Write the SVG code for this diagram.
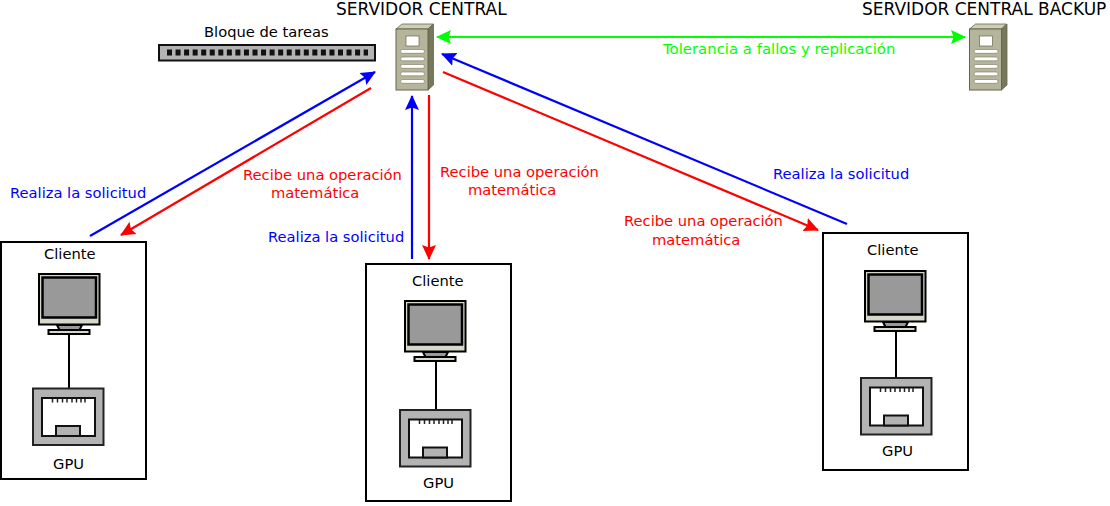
<svg xmlns="http://www.w3.org/2000/svg" xmlns:xlink="http://www.w3.org/1999/xlink" width="1110" height="506" viewBox="0 0 1110 506">
<style>
text{font-family:"DejaVu Sans",sans-serif;font-size:14.7px}
.t{font-size:17px}
.w{font-size:14.9px}
.k{fill:#000}.b{fill:#0000ff}.r{fill:#ff0000}.g{fill:#00ff00}
.box{fill:#fff;stroke:#000;stroke-width:2}
.cb{stroke-width:2.200;fill:none}
.lb{stroke:#0000ff}.lr{stroke:#ff0000}.lg{stroke:#00ff00}
</style>
<defs>
<marker id="mb" markerUnits="userSpaceOnUse" markerWidth="18" markerHeight="16" refX="14" refY="8" orient="auto"><path d="M0 1L15 8L0 15L2.500 8Z" fill="#0000ff"/></marker>
<marker id="mr" markerUnits="userSpaceOnUse" markerWidth="18" markerHeight="16" refX="14" refY="8" orient="auto"><path d="M0 1L15 8L0 15L2.500 8Z" fill="#ff0000"/></marker>
<marker id="mg" markerUnits="userSpaceOnUse" markerWidth="18" markerHeight="16" refX="14" refY="8" orient="auto-start-reverse"><path d="M0 1L15 8L0 15L2.500 8Z" fill="#00ff00"/></marker>
<g id="server">
<path d="M396 29L402 24H433L428 29Z" fill="#cfcfb8" stroke="#66664e" stroke-width=".8"/>
<path d="M428 29L433.500 24V85L428 90Z" fill="#77775c" stroke="#66664e" stroke-width=".8"/>
<rect x="396" y="29" width="32" height="61" fill="#b5b59c" stroke="#66664e" stroke-width="1"/>
<rect x="406" y="36" width="13" height="10" fill="#fff" stroke="#66664e" stroke-width=".7"/>
<g fill="#fff" stroke="#77775c" stroke-width=".6">
<rect x="400.500" y="49.500" width="24" height="3.800" rx="1.900"/>
<rect x="400.500" y="57" width="24" height="3.800" rx="1.900"/>
<rect x="400.500" y="64.500" width="24" height="3.800" rx="1.900"/>
<rect x="400.500" y="72" width="24" height="3.800" rx="1.900"/>
<rect x="400.500" y="79.500" width="24" height="3.800" rx="1.900"/>
</g>
</g>
<g id="monitor">
<path d="M57 325L60 331H79L82 325Z" fill="#999" stroke="#000" stroke-width="2"/>
<rect x="39" y="274" width="60.500" height="50.500" fill="#d8d8c8" stroke="#000" stroke-width="2"/>
<rect x="42.500" y="277.500" width="53.500" height="40" fill="#999" stroke="#000" stroke-width="2.500"/>
<rect x="48.500" y="330" width="41" height="4" fill="#d8d8c8" stroke="#000" stroke-width="2"/>
</g>
<g id="gpu">
<rect x="33" y="388.500" width="70.500" height="56.500" fill="#b3b3b3" stroke="#222" stroke-width="2"/>
<rect x="42" y="398" width="53" height="38" fill="#fff" stroke="#111" stroke-width="2"/>
<rect x="56" y="426" width="24" height="10" fill="#b3b3b3" stroke="#111" stroke-width="2"/>
<path d="M52.500 398.500v4M57.500 398.500v4M62.500 398.500v4M67 398.500v4M72 398.500v4M76.500 398.500v4M81 398.500v4M85 398.500v4" stroke="#222" stroke-width="1.500"/>
</g>
</defs>
<g id="bloque-tareas">
<rect x="159" y="45" width="216" height="15.500" fill="#b3b3b3" stroke="#111" stroke-width="2"/>
<path stroke="#111" stroke-width="6" stroke-dasharray="5 3.550" fill="none" d="M167 52.500H368"/>
<text x="204" y="37" class="k">Bloque de tareas</text>
</g>
<g id="servidor-central">
<use href="#server"/>
<text x="336" y="15" class="k t">SERVIDOR CENTRAL</text>
</g>
<g id="servidor-backup">
<use href="#server" x="573.500" y="0"/>
<text x="862" y="15" class="k t">SERVIDOR CENTRAL BACKUP</text>
</g>
<g id="cliente-1">
<rect class="box" x="1" y="242" width="145" height="237"/>
<text x="44" y="259" class="k">Cliente</text>
<use href="#monitor"/>
<path d="M69 334V388" stroke="#000" stroke-width="2"/>
<use href="#gpu"/>
<text x="53" y="469" class="k">GPU</text>
</g>
<g id="cliente-2">
<rect class="box" x="366" y="264" width="145" height="237"/>
<text x="412" y="286" class="k">Cliente</text>
<use href="#monitor" x="366" y="27"/>
<path d="M436 361V410" stroke="#000" stroke-width="2"/>
<use href="#gpu" x="367" y="21.500"/>
<text x="423" y="488" class="k">GPU</text>
</g>
<g id="cliente-3">
<rect class="box" x="823" y="233" width="145" height="237"/>
<text x="867" y="255" class="k">Cliente</text>
<use href="#monitor" x="826" y="-3"/>
<path d="M896 331V378" stroke="#000" stroke-width="2"/>
<use href="#gpu" x="828" y="-10.500"/>
<text x="882" y="456" class="k">GPU</text>
</g>
<g id="conectores">
<path class="cb lb" marker-end="url(#mb)" d="M90 236L375 72"/>
<path class="cb lr" marker-end="url(#mr)" d="M371 88L121 235"/>
<path class="cb lb" marker-end="url(#mb)" d="M412 259V96"/>
<path class="cb lr" marker-end="url(#mr)" d="M429 95V259"/>
<path class="cb lb" marker-end="url(#mb)" d="M847 224L442 54"/>
<path class="cb lr" marker-end="url(#mr)" d="M443 72L818 230"/>
<path class="cb lg" marker-start="url(#mg)" marker-end="url(#mg)" d="M437 37H965"/>
</g>
<g id="etiquetas">
<text x="10" y="198" class="b">Realiza la solicitud</text>
<text x="243" y="180" class="r">Recibe una operación</text>
<text x="271" y="198" class="r">matemática</text>
<text x="268" y="242" class="b">Realiza la solicitud</text>
<text x="440" y="177" class="r">Recibe una operación</text>
<text x="468" y="195" class="r">matemática</text>
<text x="624" y="226" class="r">Recibe una operación</text>
<text x="652" y="245" class="r">matemática</text>
<text x="773" y="179" class="b">Realiza la solicitud</text>
<text x="663" y="54" class="g w">Tolerancia a fallos y replicación</text>
</g>
</svg>
